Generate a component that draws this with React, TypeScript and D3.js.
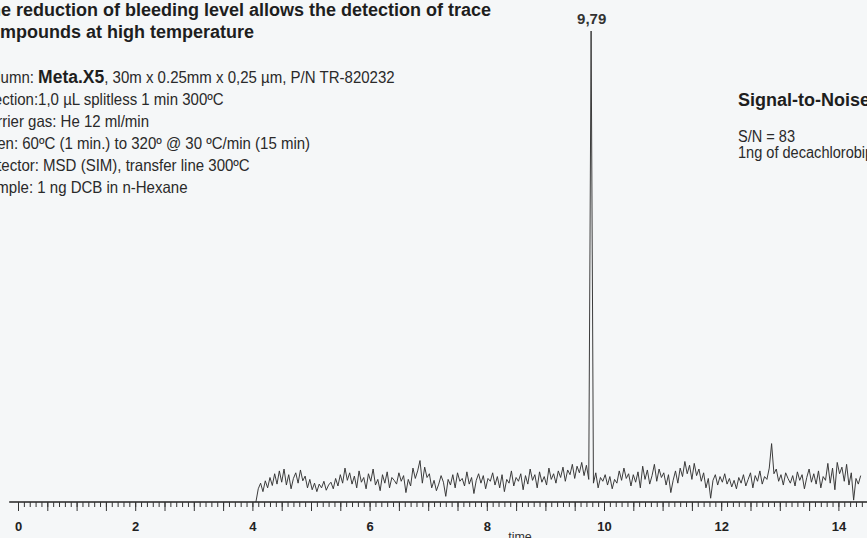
import React, { useRef, useEffect } from "react";
import * as d3 from "d3";

const W = 867;
const H = 538;

// chromatogram trace (SIM), one point every 0.04 min starting at 4.06 min
const traceStart = 4.06;
const traceStep = 0.04;
const abundance = [
  0, 28, 40, 22, 45, 30, 52, 35, 60, 38,
  66, 42, 70, 36, 58, 28, 50, 62, 40, 68,
  45, 55, 30, 48, 26, 40, 22, 38, 30, 44,
  25, 36, 42, 28, 50, 34, 58, 40, 72, 46,
  62, 38, 55, 30, 66, 42, 52, 28, 60, 44,
  70, 36, 48, 24, 58, 40, 64, 30, 52, 46,
  38, 62, 44, 56, 20, 48, 34, 72, 50, 66,
  88, 40, 74, 52, 60, 30, 46, 24, 38, 56,
  42, 12, 48, 36, 58, 30, 62, 44, 50, 34,
  64, 38, 52, 18, 46, 60, 40, 56, 28, 50,
  44, 62, 36, 54, 30, 58, 22, 48, 40, 66,
  34, 52, 44, 60, 26, 56, 38, 70, 46, 58,
  30, 64, 42, 54, 36, 72, 48, 60, 40, 66,
  52, 74, 44, 68, 58, 80, 50, 76, 62, 84,
  56, 78, 48, 1000, 40, 62, 30, 52, 44, 58,
  36, 54, 28, 48, 40, 66, 46, 72, 50, 60,
  34, 58, 42, 64, 30, 76, 48, 68, 38, 56,
  80, 44, 70, 52, 62, 36, 58, 20, 46, 66,
  40, 72, 54, 86, 60, 78, 48, 82, 56, 70,
  44, 62, 30, 50, 8, 46, 58, 36, 54, 42,
  60, 38, 50, 32, 46, 28, 52, 40, 58, 34,
  48, 62, 30, 56, 44, 66, 38, 54, 48, 72,
  124, 60, 70, 44, 58, 36, 62, 50, 40, 56,
  34, 64, 46, 58, 28, 52, 70, 42, 60, 38,
  66, 30, 54, 46, 82, 40, 72, 26, 84, 60,
  74, 44, 80, 36, 62, 4, 50, 38, 56,
];

const labelTicks = [0, 2, 4, 6, 8, 10, 12, 14];
const peakTime = 9.79;
const peakLabel = "9,79";

const titleLines = [
  "The  reduction of bleeding level allows the detection of trace",
  "compounds at high temperature",
];
const columnParts = ["Column: ", "Meta.X5", ", 30m x 0.25mm x 0,25 µm, P/N TR-820232"];
const conditionLines = [
  "Injection:1,0 µL splitless 1 min 300ºC",
  "Carrier gas: He 12 ml/min",
  "Oven: 60ºC (1 min.) to 320º @ 30 ºC/min (15 min)",
  "Detector: MSD (SIM), transfer line 300ºC",
  "Sample: 1 ng DCB in n-Hexane",
];
const snLines = ["S/N = 83", "1ng of decachlorobiphenyl"];

const SANS = "'Liberation Sans', Arial, Helvetica, sans-serif";
const SQUEEZE = 0.91; // the scan uses a condensed face

const App: React.FC = () => {
  const svgRef = useRef<SVGSVGElement | null>(null);

  useEffect(() => {
    if (!svgRef.current) return;
    const svg = d3.select(svgRef.current);
    svg.selectAll("*").remove();

    // squeeze a text horizontally to mimic the condensed font, returns new width
    const condense = (sel: d3.Selection<any, unknown, null, undefined>) => {
      const node = sel.node() as SVGTextContentElement;
      const len = node.getComputedTextLength() * SQUEEZE;
      sel.attr("textLength", len).attr("lengthAdjust", "spacingAndGlyphs");
      return len;
    };

    const baseY = 502;

    // scales
    const x = d3.scaleLinear().domain([0, 14]).range([18, 838.4]);
    const y = d3.scaleLinear().domain([0, 1000]).range([baseY, 31]);

    svg.append("rect").attr("width", W).attr("height", H).attr("fill", "#f5f7f8");

    // trace
    const points = abundance.map((v, i) => [traceStart + i * traceStep, v] as [number, number]);
    const line = d3
      .line<[number, number]>()
      .x((d) => x(d[0]))
      .y((d) => y(d[1]));
    svg
      .append("path")
      .attr("d", line(points)!)
      .attr("fill", "none")
      .attr("stroke", "#333")
      .attr("stroke-width", 0.95)
      .attr("stroke-linejoin", "round");

    // axis baseline
    svg
      .append("line")
      .attr("x1", x(-0.15))
      .attr("x2", x(14.7))
      .attr("y1", baseY)
      .attr("y2", baseY)
      .attr("stroke", "#222")
      .attr("stroke-width", 1.6);

    // minor ticks every 0.1
    const minor = svg
      .append("g")
      .attr("transform", `translate(0,${baseY})`)
      .call(
        d3
          .axisBottom(x)
          .tickValues(d3.range(0, 146).map((i) => i / 10))
          .tickSize(5)
          .tickFormat(() => "")
      );
    minor.select(".domain").remove();
    minor.selectAll("line").attr("stroke", "#333");

    // half-minute ticks, labels on even minutes
    const major = svg
      .append("g")
      .attr("transform", `translate(0,${baseY})`)
      .call(
        d3
          .axisBottom(x)
          .tickValues(d3.range(0, 30).map((i) => i / 2))
          .tickSize(9)
          .tickPadding(11)
          .tickFormat((d) => (labelTicks.includes(+d) ? String(d) : ""))
      );
    major.select(".domain").remove();
    major.selectAll("line").attr("stroke", "#333");
    major
      .selectAll("text")
      .attr("font-family", SANS)
      .attr("font-size", 13)
      .attr("font-weight", "bold")
      .attr("fill", "#222");

    svg
      .append("text")
      .attr("x", 520)
      .attr("y", 541)
      .attr("text-anchor", "middle")
      .attr("font-family", SANS)
      .attr("font-size", 12.5)
      .attr("fill", "#333")
      .text("time");

    // peak label
    svg
      .append("text")
      .attr("x", x(peakTime))
      .attr("y", 24)
      .attr("text-anchor", "middle")
      .attr("font-family", SANS)
      .attr("font-size", 15)
      .attr("font-weight", "bold")
      .attr("fill", "#333")
      .text(peakLabel);

    // title
    titleLines.forEach((t, i) => {
      svg
        .append("text")
        .attr("x", -21)
        .attr("y", 16 + i * 22)
        .attr("font-family", SANS)
        .attr("font-size", 18)
        .attr("font-weight", "bold")
        .attr("fill", "#1e1e1e")
        .text(t);
    });

    // conditions — column line built from three pieces
    let cx = -22;
    const c1 = svg
      .append("text")
      .attr("x", cx)
      .attr("y", 83)
      .attr("font-family", SANS)
      .attr("font-size", 16.5)
      .attr("fill", "#2a2a2a")
      .style("white-space", "pre")
      .text(columnParts[0]);
    cx += condense(c1);
    const c2 = svg
      .append("text")
      .attr("x", cx)
      .attr("y", 83)
      .attr("font-family", SANS)
      .attr("font-size", 17.5)
      .attr("font-weight", "bold")
      .attr("fill", "#1e1e1e")
      .text(columnParts[1]);
    cx += (c2.node() as SVGTextElement).getComputedTextLength();
    const c3 = svg
      .append("text")
      .attr("x", cx)
      .attr("y", 83)
      .attr("font-family", SANS)
      .attr("font-size", 16.5)
      .attr("fill", "#2a2a2a")
      .text(columnParts[2]);
    condense(c3);

    conditionLines.forEach((t, i) => {
      const tx = svg
        .append("text")
        .attr("x", -22)
        .attr("y", 105 + i * 22)
        .attr("font-family", SANS)
        .attr("font-size", 16.5)
        .attr("fill", "#2a2a2a")
        .text(t);
      condense(tx);
    });

    // signal-to-noise note
    svg
      .append("text")
      .attr("x", 738)
      .attr("y", 106)
      .attr("font-family", SANS)
      .attr("font-size", 18)
      .attr("font-weight", "bold")
      .attr("fill", "#1e1e1e")
      .text("Signal-to-Noise Ratio");
    snLines.forEach((t, i) => {
      const tx = svg
        .append("text")
        .attr("x", 738)
        .attr("y", 142 + i * 16)
        .attr("font-family", SANS)
        .attr("font-size", 16)
        .attr("fill", "#2a2a2a")
        .text(t);
      condense(tx);
    });
  }, []);

  return (
    <svg
      ref={svgRef}
      width={W}
      height={H}
      style={{ position: "absolute", left: 0, top: 0, display: "block" }}
    ></svg>
  );
};

export default App;
